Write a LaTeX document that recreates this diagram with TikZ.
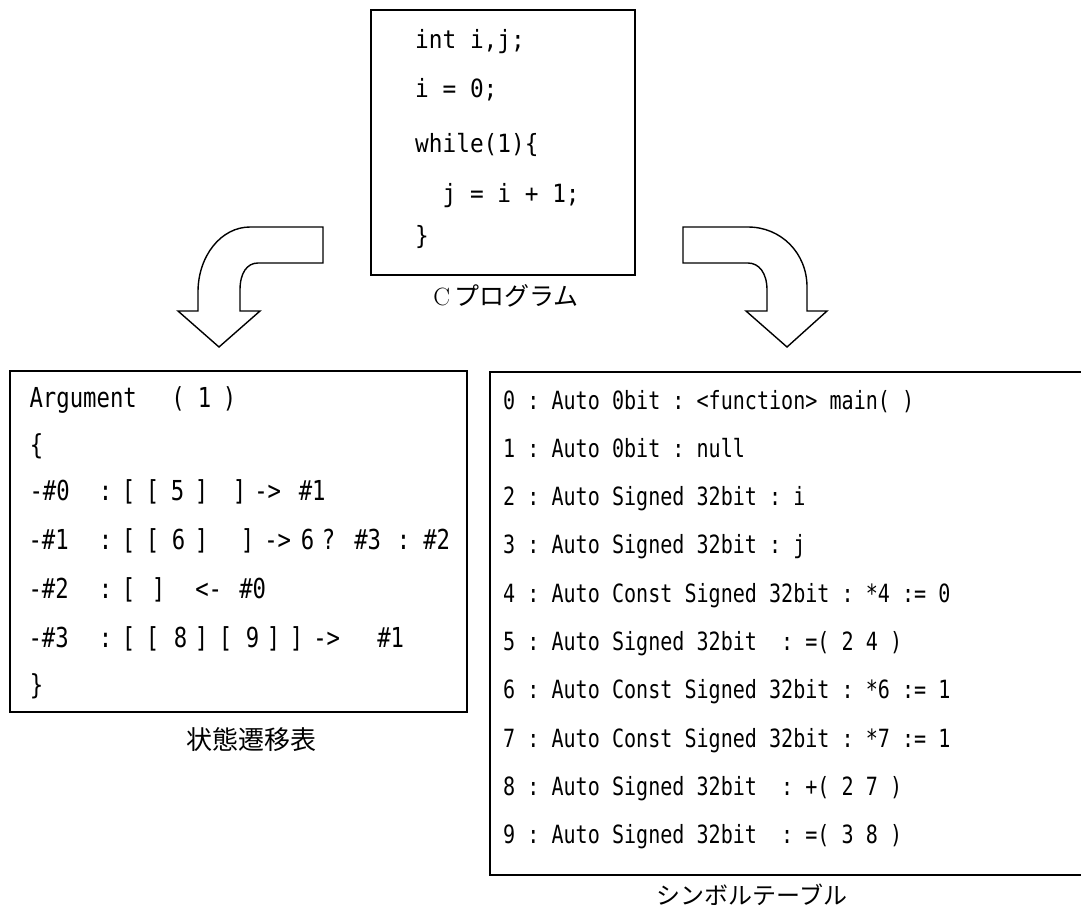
\documentclass[tikz,border=0pt]{standalone}
\usepackage{fontspec}
\newfontfamily\cjk{Noto Sans CJK JP}
\newfontfamily\codeTop[FakeStretch=0.907]{DejaVu Sans Mono}
\newfontfamily\codeLeft[FakeStretch=0.81]{DejaVu Sans Mono}
\newfontfamily\codeRight[FakeStretch=0.80]{DejaVu Sans Mono}
% place a token centred at a given horizontal offset from the line origin
\newcommand\codetok[2]{\makebox[0pt][l]{\hspace*{#1pt}\makebox[0pt][c]{#2}}}

\begin{document}
\begin{tikzpicture}[x=1pt,y=-1pt,
  frame/.style={draw,line width=2pt},
  turnarrow/.style={draw,line width=1.4pt,fill=white,line join=miter},
  topcode/.style={anchor=base west,inner sep=0pt,font=\codeTop\fontsize{25.1}{30}\selectfont},
  leftcode/.style={anchor=base west,inner sep=0pt,font=\codeLeft\fontsize{27.5}{34}\selectfont},
  rightcode/.style={anchor=base west,inner sep=0pt,font=\codeRight\fontsize{25.1}{30}\selectfont},
  caption/.style={inner sep=0pt}
]
\clip (0,0) rectangle (1081,914);

% C program box
\draw[frame] (371,10) rectangle (635,275);
\node[topcode] (p1) at (415,48)  {int~i,j;};
\node[topcode] (p2) at (415,97)  {i~=~0;};
\node[topcode] (p3) at (415,152) {while(1)\{};
\node[topcode] (p4) at (415,202) {~~j~=~i~+~1;};
\node[topcode] (p5) at (415,244) {\}};
\node[caption,font=\fontsize{25}{30}\selectfont] (cprog) at (506,296) {C\,{\cjk プログラム}};

% curved arrow to the state transition table
\draw[turnarrow] (323,227) -- (250,227)
  .. controls (221,227) and (198,256) .. (198,292)
  -- (198,311) -- (178,311) -- (219,347) -- (260,311) -- (240,311) -- (240,290)
  .. controls (240,273) and (247,263) .. (258,263)
  -- (323,263) -- cycle;

% curved arrow to the symbol table
\draw[turnarrow] (683,227) -- (748,227)
  .. controls (781,227) and (807,253) .. (807,287)
  -- (807,311) -- (827,311) -- (787,347) -- (746,311) -- (767,311) -- (767,290)
  .. controls (767,273) and (759,263) .. (748,263)
  -- (683,263) -- cycle;

% state transition table
\draw[frame] (10,371) rectangle (467,712);
\node[leftcode] (s1) at (0,407) {\codetok{82.5}{Argument}\codetok{177.5}{(}\codetok{204}{1}\codetok{229}{)}};
\node[leftcode] (s2) at (0,454) {\codetok{36}{\{}};
\node[leftcode] (s3) at (0,500) {\codetok{49}{-\#0}\codetok{105}{:}\codetok{128}{[}\codetok{152}{[}\codetok{177}{5}\codetok{201}{]}\codetok{239}{]}\codetok{267}{->}\codetok{311.5}{\#1}};
\node[leftcode] (s4) at (0,549) {\codetok{48}{-\#1}\codetok{105}{:}\codetok{128}{[}\codetok{152}{[}\codetok{178}{6}\codetok{201}{]}\codetok{247}{]}\codetok{277}{->}\codetok{307}{6}\codetok{328}{?}\codetok{367}{\#3}\codetok{403}{:}\codetok{436}{\#2}};
\node[leftcode] (s5) at (0,598) {\codetok{48}{-\#2}\codetok{105}{:}\codetok{128}{[}\codetok{158}{]}\codetok{208}{<-}\codetok{252}{\#0}};
\node[leftcode] (s6) at (0,647) {\codetok{48}{-\#3}\codetok{105}{:}\codetok{128}{[}\codetok{152}{[}\codetok{180}{8}\codetok{201}{]}\codetok{225}{[}\codetok{252}{9}\codetok{273}{]}\codetok{296}{]}\codetok{326}{->}\codetok{390}{\#1}};
\node[leftcode] (s7) at (0,694) {\codetok{36}{\}}};
\node[caption,font=\cjk\fontsize{26}{30}\selectfont] (stt) at (251,740) {状態遷移表};

% symbol table (runs past the right edge)
\draw[frame] (490,372) rectangle (1100,875);
\node[rightcode] (t0) at (503,409.0) {0~:~Auto~0bit~:~<function>~main(~)};
\node[rightcode] (t1) at (503,457.3) {1~:~Auto~0bit~:~null};
\node[rightcode] (t2) at (503,505.6) {2~:~Auto~Signed~32bit~:~i};
\node[rightcode] (t3) at (503,553.9) {3~:~Auto~Signed~32bit~:~j};
\node[rightcode] (t4) at (503,602.2) {4~:~Auto~Const~Signed~32bit~:~*4~:=~0};
\node[rightcode] (t5) at (503,650.5) {5~:~Auto~Signed~32bit~~:~=(~2~4~)};
\node[rightcode] (t6) at (503,698.8) {6~:~Auto~Const~Signed~32bit~:~*6~:=~1};
\node[rightcode] (t7) at (503,747.1) {7~:~Auto~Const~Signed~32bit~:~*7~:=~1};
\node[rightcode] (t8) at (503,795.4) {8~:~Auto~Signed~32bit~~:~+(~2~7~)};
\node[rightcode] (t9) at (503,843.7) {9~:~Auto~Signed~32bit~~:~=(~3~8~)};
\node[caption,font=\cjk\fontsize{24}{30}\selectfont] (sym) at (752,895) {シンボルテーブル};
\end{tikzpicture}
\end{document}
